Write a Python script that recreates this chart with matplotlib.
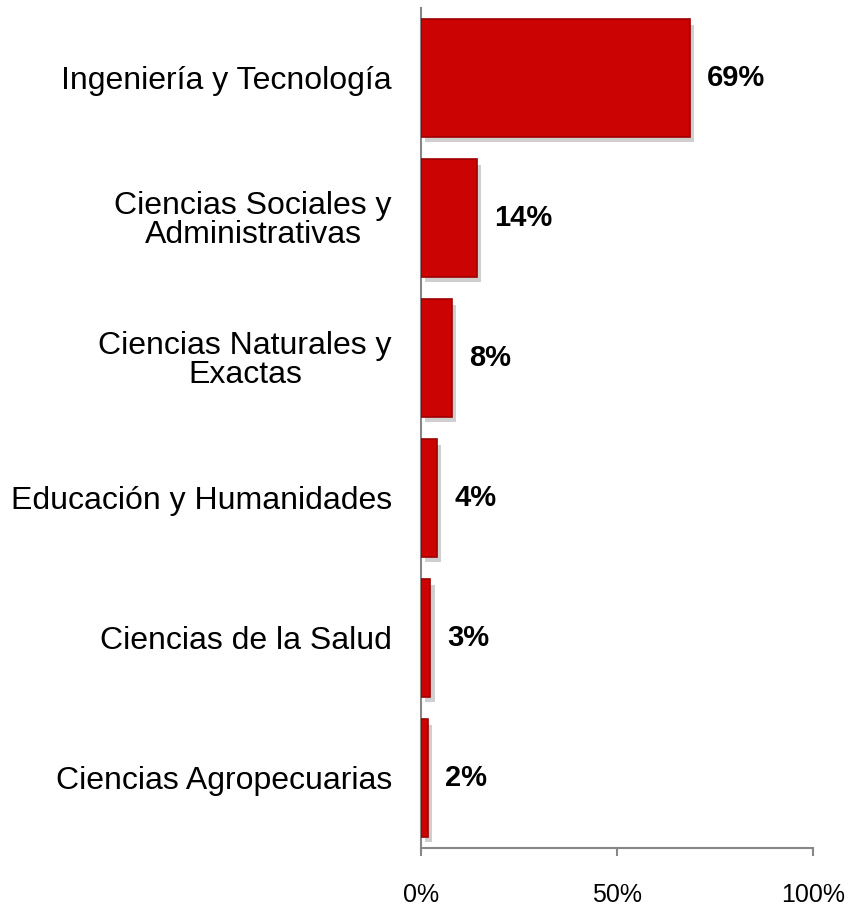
import matplotlib.pyplot as plt
import matplotlib.patheffects as pe

areas = ["Ingeniería y Tecnología",
         "Ciencias Sociales y\nAdministrativas",
         "Ciencias Naturales y\nExactas",
         "Educación y Humanidades",
         "Ciencias de la Salud",
         "Ciencias Agropecuarias"]
porcentaje = [68.6, 14.2, 7.9, 4.1, 2.4, 1.8]
etiquetas = ["69%", "14%", "8%", "4%", "3%", "2%"]

plt.rcParams['font.family'] = ['Liberation Sans', 'DejaVu Sans']

fig = plt.figure(figsize=(8.51, 9.05), dpi=100)
ax = fig.add_axes([0.4947, 0.063, 0.4606, 0.9282])

pos = list(range(len(areas)))
bars = ax.barh(pos, porcentaje, height=0.84, color='#CC0303',
               edgecolor='#9E0000', linewidth=1.2, zorder=3)
for b in bars:
    b.set_path_effects([pe.SimplePatchShadow(offset=(3, -4), shadow_rgbFace='#777777', alpha=0.35),
                        pe.Normal()])

for p, v, t in zip(pos, porcentaje, etiquetas):
    ax.annotate(t, (v, p), xytext=(12.5, 0), textcoords='offset points',
                ha='left', va='center', fontsize=21, fontweight='bold')

ax.set_xlim(0, 100)
ax.set_ylim(len(areas) - 0.5, -0.5)
ax.set_xticks([0, 50, 100])
ax.set_xticklabels(["0%", "50%", "100%"], fontsize=18)
ax.set_yticks(pos)
ax.set_yticklabels(areas, fontsize=23, multialignment='center', linespacing=0.95)

for s in ['top', 'right']:
    ax.spines[s].set_visible(False)
for s in ['left', 'bottom']:
    ax.spines[s].set_color('#878787')
    ax.spines[s].set_linewidth(1.5)
ax.tick_params(axis='y', length=0, pad=21)
ax.tick_params(axis='x', length=6, width=1.5, color='#878787', pad=19)

fig.savefig("out.png", dpi=100)
